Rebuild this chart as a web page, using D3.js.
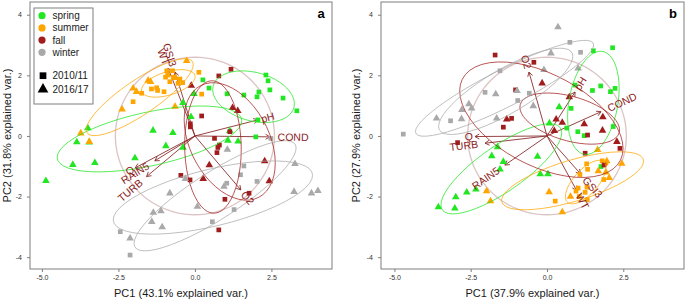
<!DOCTYPE html>
<html>
<head>
<meta charset="utf-8">
<script src="https://cdn.jsdelivr.net/npm/d3@7/dist/d3.min.js"></script>
<style>
body { margin: 0; background: #fff; }
svg { display: block; font-family: "Liberation Sans", Arial, sans-serif; }
</style>
</head>
<body>
<svg id="chart" width="685" height="301"></svg>
<script>
// groups: season = colour, year = shape
const seasons = ["spring", "summer", "fall", "winter"];
const seasonColors = ["#22e622", "#ffa500", "#a11d1d", "#a9a9a9"];
const years = ["2010/11", "2016/17"];
const variables = ["GSI3", "WT", "pH", "COND", "O2", "RAIN5", "Q", "TURB"];
const xTicks = [-5, -2.5, 0, 2.5];
const yTicks = [-4, -2, 0, 2, 4];

// ---- panel a : PC scores (PC1, PC2) ----
const aSpring1011 = [[0.26,1.85],[0.46,1.58],[1.05,1.39],[1.60,1.35],[2.03,1.29],[2.09,1.45],[2.32,2.01],[2.39,1.82],[2.45,1.52],[2.88,1.25],[3.33,0.83],[2.06,0.53],[1.99,-0.03]];
const aSpring1617 = [[-0.03,1.39],[-0.39,1.09],[-0.13,0.63],[-3.50,0.26],[-1.37,0.18],[-0.72,0.10],[-3.86,-0.20],[-3.46,-0.21],[-0.95,-0.33],[-0.39,-0.38],[1.14,0.17],[1.08,-0.15],[1.41,-0.18],[-3.99,-0.95],[-3.27,-0.89],[-4.87,-1.48],[-1.96,-0.73]];
const aSummer1011 = [[-0.92,2.15],[-0.73,2.15],[-0.89,2.01],[-0.96,1.94],[-0.71,1.94],[-0.49,1.88],[-0.82,1.79],[-0.40,1.76],[-0.55,1.74],[0.13,2.10],[0.22,1.38],[-1.42,1.55],[-1.25,1.59],[-1.22,1.50],[-1.01,1.46],[-1.74,1.41],[-2.02,1.13]];
const aSummer1617 = [[-0.27,2.48],[-1.53,1.83],[-1.45,1.79],[-2.02,1.57],[-1.91,1.46],[-0.65,0.97],[-2.38,0.88],[-3.73,0.09],[-3.45,-0.19],[-0.63,1.92]];
const aFall1011 = [[1.18,2.20],[0.78,1.98],[0.22,0.66],[1.14,0.14],[0.64,-0.08],[-0.15,0.40],[-0.15,0.30],[0.80,-0.30],[0.75,-0.38],[0.72,-0.55],[-0.46,-1.30],[-0.16,-1.45],[0.98,-2.09],[1.77,-1.89],[0.78,-3.10]];
const aFall1617 = [[-0.12,1.66],[1.23,0.93],[1.40,0.83],[0.47,-0.96],[0.27,-1.41],[2.28,-0.83],[2.43,-1.49]];
const aWinter1011 = [[2.48,-0.08],[1.60,-0.99],[1.49,-1.28],[2.03,-1.50],[1.04,-1.56],[1.28,-2.43],[0.57,-2.83],[-2.44,-3.16],[-2.12,-3.93]];
const aWinter1617 = [[1.06,-0.45],[0.95,-1.67],[0.08,-2.33],[3.27,-0.92],[3.24,-1.84],[3.81,-1.89],[4.02,-1.81],[-0.31,-1.41],[-0.82,-1.89],[-1.36,-2.53],[-1.11,-2.48],[-1.41,-2.83],[-1.07,-3.01],[-2.12,-3.38]];
// loadings, same order as variables
const aLoadings = [[-0.65,2.11],[-0.88,2.24],[2.06,0.53],[2.45,-0.03],[1.50,-1.78],[-1.31,-0.82],[-1.95,-1.05],[-1.58,-1.34]];
const aCircleRadius = 2.6;

// ---- panel b ----
const bSpring1011 = [[1.52,2.81],[2.15,2.91],[1.76,1.65],[1.49,1.50],[2.08,1.46],[2.23,1.57],[0.79,0.91],[0.92,1.68],[0.65,0.26],[1.01,0.14],[1.22,0.01],[2.17,0.31],[1.77,-1.01]];
const bSpring1617 = [[0.40,0.95],[0.08,0.42],[-0.31,-0.68],[-0.22,-1.26],[0.03,-1.26],[-1.62,-0.37],[-1.81,-0.66],[-1.43,-0.85],[-1.54,-1.10],[-2.33,-1.76],[-2.63,-1.86],[-2.99,-2.02],[-3.56,-2.35],[-3.02,-2.39]];
const bSummer1011 = [[1.30,-0.92],[1.33,-1.10],[1.08,-1.27],[1.81,-0.82],[1.93,-0.90],[1.86,-1.44],[1.02,-1.72],[0.95,-1.82],[1.25,-1.86],[1.06,-2.00],[1.32,-2.10],[0.27,-2.15],[1.31,-1.69]];
const bSummer1617 = [[1.66,-0.46],[1.96,-0.83],[2.45,-0.91],[1.68,-1.16],[1.93,-1.20],[2.04,-1.38],[0.07,-1.85],[0.77,-2.00],[0.50,-2.51],[-1.98,-1.82],[-1.85,-2.15]];
const bFall1011 = [[-1.70,2.67],[-0.43,2.43],[-1.03,1.52],[-1.16,0.58],[-1.43,0.29],[1.33,0.03],[-2.93,-0.22],[2.39,-0.41],[1.25,-0.57],[1.87,-0.96]];
const bFall1617 = [[-0.16,1.74],[-1.32,0.55],[0.73,1.28],[0.30,0.55],[0.50,0.44],[1.22,0.39],[1.83,0.62],[1.82,0.18],[0.24,0.17],[2.29,-0.19]];
const bWinter1011 = [[-4.71,0.06],[-1.54,2.15],[-2.03,1.44],[-0.96,1.17],[-3.16,0.50],[-0.58,1.41],[0.75,3.09],[1.10,2.76]];
const bWinter1617 = [[-3.62,0.58],[-2.56,1.05],[-2.47,0.91],[-2.79,0.86],[-2.80,0.56],[-1.68,1.38],[-1.65,0.58],[-0.45,0.99],[-0.10,2.18],[0.13,2.73],[0.36,3.59],[1.02,2.23],[-0.98,1.49]];
const bLoadings = [[1.10,-1.25],[0.97,-1.80],[0.92,1.45],[1.77,0.80],[-0.59,2.11],[-1.38,-0.96],[-2.36,-0.02],[-2.03,-0.24]];
const bCircleRadius = 2.6;

const arrowColor = "#8a2e2e";
const labelColor = "#8b1a1a";
const svg = d3.select("#chart");

function makeGroups(lists) {
	// lists ordered spring1011, spring1617, summer1011, ...
	return lists.map((pts, i) => ({season: Math.floor(i / 2), year: i % 2, pts: pts}));
}

// normal-data ellipse like ggbiplot (prob 0.68)
function ellipsePath(pts, x, y) {
	let n = pts.length;
	let mx = d3.mean(pts, d => d[0]), my = d3.mean(pts, d => d[1]);
	let sxx = d3.sum(pts, d => (d[0]-mx)*(d[0]-mx)) / (n-1);
	let syy = d3.sum(pts, d => (d[1]-my)*(d[1]-my)) / (n-1);
	let sxy = d3.sum(pts, d => (d[0]-mx)*(d[1]-my)) / (n-1);
	let a = Math.sqrt(sxx), b = sxy / a, c = Math.sqrt(Math.max(syy - b*b, 0));
	let ed = Math.sqrt(-2 * Math.log(1 - 0.68));
	let ring = d3.range(0, 51).map(k => {
		let t = -Math.PI + 2*Math.PI*k/50;
		let u = Math.cos(t), v = Math.sin(t);
		return [mx + ed*u*a, my + ed*(u*b + v*c)];
	});
	return d3.line().x(d => x(d[0])).y(d => y(d[1]))(ring);
}

function drawPanel(p) {
	let x = d3.scaleLinear().domain(p.xDomain).range(p.xRange);
	let y = d3.scaleLinear().domain([-4.39, 4.42]).range([269, 2]);
	let g = svg.append("g");
	let clipId = "clip" + p.tag;
	g.append("clipPath").attr("id", clipId)
	 .append("rect").attr("x", p.xRange[0]).attr("y", 2)
	 .attr("width", p.xRange[1]-p.xRange[0]).attr("height", 267);
	let inner = g.append("g").attr("clip-path", "url(#" + clipId + ")");

	// correlation circle
	let r = p.circleRadius;
	let circ = d3.range(0, 101).map(k => [r*Math.cos(2*Math.PI*k/100), r*Math.sin(2*Math.PI*k/100)]);
	inner.append("path")
		 .attr("d", d3.line().x(d => x(d[0])).y(d => y(d[1]))(circ))
		 .attr("fill", "none").attr("stroke", "#8a3b3b").attr("stroke-opacity", 0.3).attr("stroke-width", 1.3);

	// arrows
	p.loadings.forEach((l) => {
		let x1 = x(l[0]), y1 = y(l[1]), x0 = x(0), y0 = y(0);
		let ang = Math.atan2(y1 - y0, x1 - x0);
		let hl = 5, ha = Math.PI/6;
		let path = d3.path();
		path.moveTo(x0, y0); path.lineTo(x1, y1);
		path.moveTo(x1 - hl*Math.cos(ang - ha), y1 - hl*Math.sin(ang - ha));
		path.lineTo(x1, y1);
		path.lineTo(x1 - hl*Math.cos(ang + ha), y1 - hl*Math.sin(ang + ha));
		inner.append("path").attr("d", path.toString())
			 .attr("fill", "none").attr("stroke", arrowColor).attr("stroke-width", 0.9);
	});

	// points
	p.groups.forEach((grp) => {
		let sym = grp.year === 0 ? d3.symbol().type(d3.symbolSquare).size(22)
		                         : d3.symbol().type(d3.symbolTriangle).size(25);
		inner.selectAll(null).data(grp.pts).enter()
			 .append("path")
			 .attr("d", sym)
			 .attr("transform", d => "translate(" + x(d[0]) + "," + y(d[1]) + ")")
			 .attr("fill", seasonColors[grp.season]);
	});

	// ellipses
	p.groups.forEach((grp) => {
		inner.append("path")
			 .attr("d", ellipsePath(grp.pts, x, y))
			 .attr("fill", "none")
			 .attr("stroke", seasonColors[grp.season])
			 .attr("stroke-opacity", 0.75)
			 .attr("stroke-width", 1);
	});

	// variable labels
	p.loadings.forEach((l, i) => {
		let deg = -Math.atan(l[1]/l[0]) * 180 / Math.PI;
		let t = inner.append("text")
			 .attr("transform", "translate(" + x(l[0]) + "," + y(l[1]) + ") rotate(" + deg + ")")
			 .attr("dy", "0.35em")
			 .attr("font-size", "10.5px")
			 .attr("fill", labelColor)
			 .attr("text-anchor", l[0] > 0 ? "start" : "end")
			 .text(variables[i]);
		let w = t.node().getComputedTextLength();
		t.attr("x", (l[0] > 0 ? 1 : -1) * 0.25 * w);
	});

	// frame
	g.append("rect").attr("x", p.xRange[0]).attr("y", 2)
	 .attr("width", p.xRange[1]-p.xRange[0]).attr("height", 267)
	 .attr("fill", "none").attr("stroke", "#7f7f7f").attr("stroke-width", 1);

	let xAxis = g.append("g").attr("transform", "translate(0,269)")
		.call(d3.axisBottom(x).tickValues(xTicks).tickSize(3).tickPadding(3).tickFormat(d => d.toFixed(1)));
	let yAxis = g.append("g").attr("transform", "translate(" + p.xRange[0] + ",0)")
		.call(d3.axisLeft(y).tickValues(yTicks).tickSize(3).tickPadding(5).tickFormat(d => d));
	[xAxis, yAxis].forEach(ax => {
		ax.select(".domain").remove();
		ax.selectAll("line").attr("stroke", "#7f7f7f");
		ax.selectAll("text").attr("font-size", "7px").attr("fill", "#333")
		  .attr("font-family", '"Liberation Sans", Arial, sans-serif');
	});

	let cx = (p.xRange[0] + p.xRange[1]) / 2;
	g.append("text").attr("x", cx).attr("y", 297)
	 .attr("text-anchor", "middle").attr("font-size", "11px").attr("fill", "#1a1a1a")
	 .text(p.xLabel);
	g.append("text")
	 .attr("transform", "translate(" + p.yLabelX + ",135.5) rotate(-90)")
	 .attr("dy", "0.35em")
	 .attr("text-anchor", "middle").attr("font-size", "11px").attr("fill", "#1a1a1a")
	 .text(p.yLabel);
	g.append("text").attr("x", p.xRange[1] - 11).attr("y", 17.5)
	 .attr("text-anchor", "middle").attr("font-size", "13px").attr("font-weight", "bold")
	 .text(p.tag);
}

drawPanel({
	tag: "a",
	xDomain: [-5.39, 4.48], xRange: [30, 332],
	groups: makeGroups([aSpring1011, aSpring1617, aSummer1011, aSummer1617, aFall1011, aFall1617, aWinter1011, aWinter1617]),
	loadings: aLoadings,
	circleRadius: aCircleRadius,
	xLabel: "PC1 (43.1% explained var.)",
	yLabel: "PC2 (31.8% explained var.)",
	yLabelX: 7
});
drawPanel({
	tag: "b",
	xDomain: [-5.44, 4.49], xRange: [381, 684],
	groups: makeGroups([bSpring1011, bSpring1617, bSummer1011, bSummer1617, bFall1011, bFall1617, bWinter1011, bWinter1617]),
	loadings: bLoadings,
	circleRadius: bCircleRadius,
	xLabel: "PC1 (37.9% explained var.)",
	yLabel: "PC2 (27.9% explained var.)",
	yLabelX: 356
});

// legend inside panel a
let leg = svg.append("g");
leg.append("rect").attr("x", 34).attr("y", 8).attr("width", 59).attr("height", 96)
   .attr("fill", "#fff").attr("stroke", "#7f7f7f").attr("stroke-width", 1);
leg.selectAll(".sea").data(seasons).enter()
   .append("circle").attr("class", "sea")
   .attr("cx", 42).attr("cy", (d, i) => 15.7 + i*12.2).attr("r", 3.6)
   .attr("fill", (d, i) => seasonColors[i]);
leg.selectAll(".seat").data(seasons).enter()
   .append("text").attr("class", "seat")
   .attr("x", 52.5).attr("y", (d, i) => 15.7 + i*12.2).attr("dy", "0.35em")
   .attr("font-size", "10px").attr("fill", "#1a1a1a").text(d => d);
leg.selectAll(".yr").data(years).enter()
   .append("path").attr("class", "yr")
   .attr("d", (d, i) => d3.symbol().type(i === 0 ? d3.symbolSquare : d3.symbolTriangle).size(i === 0 ? 45 : 50)())
   .attr("transform", (d, i) => "translate(43," + (75.7 + i*13.6) + ")")
   .attr("fill", "#000");
leg.selectAll(".yrt").data(years).enter()
   .append("text").attr("class", "yrt")
   .attr("x", 52.5).attr("y", (d, i) => 75.7 + i*13.6).attr("dy", "0.35em")
   .attr("font-size", "10px").attr("fill", "#1a1a1a").text(d => d);
</script>
</body>
</html>
